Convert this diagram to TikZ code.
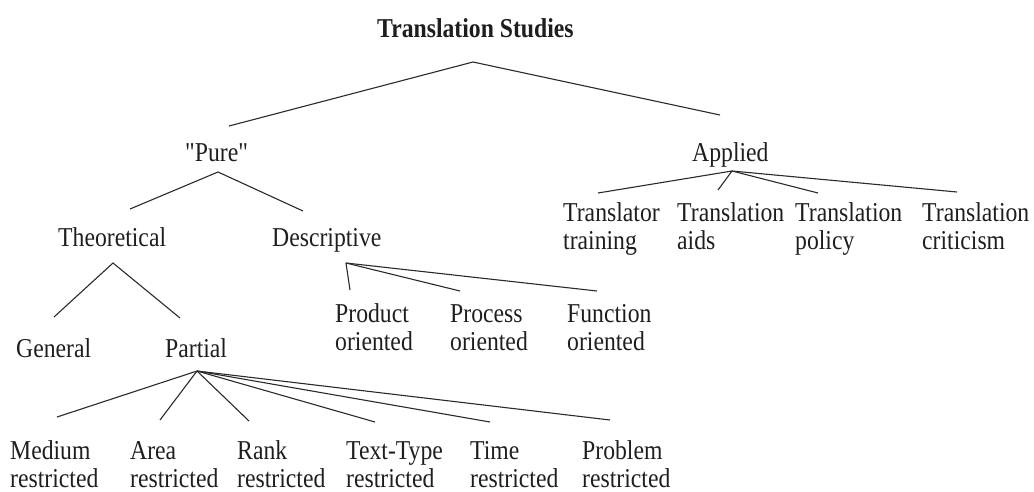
\documentclass[tikz,border=0pt]{standalone}
\usepackage{fontspec}
\setmainfont{Liberation Serif}
\newfontfamily\qfont{Liberation Serif}[Ligatures=ResetAll]
\usepackage{graphicx}
\definecolor{txt}{HTML}{1E1E1E}
\definecolor{ln}{HTML}{2A2A2A}
\newcommand\lbltext[1]{\scalebox{1}[1.15]{\begin{tabular}[t]{@{}l@{}}#1\end{tabular}}}
\newcommand\sq{{\qfont\symbol{34}}}
\tikzset{
  lbl/.style={anchor=base west, inner sep=0pt, text=txt, font=\fontsize{23.7}{25.2}\selectfont},
  br/.style={draw=ln, line width=1.1pt}
}
\begin{document}
\begin{tikzpicture}[x=1pt,y=-1pt]
\useasboundingbox (0,0) rectangle (1034,491);
% labels
\node[lbl, font=\fontsize{23.7}{25.2}\selectfont\bfseries] (ts) at (377,37) {\lbltext{Translation Studies}};
\node[lbl] (pure) at (185,161) {\lbltext{\sq Pure\sq}};
\node[lbl] (appl) at (692,161) {\lbltext{Applied}};
\node[lbl] (theo) at (58,246) {\lbltext{Theoretical}};
\node[lbl] (desc) at (272,246) {\lbltext{Descriptive}};
\node[lbl] (ttr) at (563,221) {\lbltext{Translator\\training}};
\node[lbl] (tai) at (677,221) {\lbltext{Translation\\aids}};
\node[lbl] (tpo) at (795,221) {\lbltext{Translation\\policy}};
\node[lbl] (tcr) at (922,221) {\lbltext{Translation\\criticism}};
\node[lbl] (prod) at (335,322) {\lbltext{Product\\oriented}};
\node[lbl] (proc) at (450,322) {\lbltext{Process\\oriented}};
\node[lbl] (func) at (567,322) {\lbltext{Function\\oriented}};
\node[lbl] (gen) at (16,357) {\lbltext{General}};
\node[lbl] (part) at (165,357) {\lbltext{Partial}};
\node[lbl] (med) at (10,459) {\lbltext{Medium\\restricted}};
\node[lbl] (area) at (130,459) {\lbltext{Area\\restricted}};
\node[lbl] (rank) at (237,459) {\lbltext{Rank\\restricted}};
\node[lbl] (ttype) at (346,459) {\lbltext{Text-Type\\restricted}};
\node[lbl] (time) at (470,459) {\lbltext{Time\\restricted}};
\node[lbl] (prob) at (582,459) {\lbltext{Problem\\restricted}};
% branch points
\coordinate (tsA) at (473,62);
\coordinate (pureE) at (229,126);
\coordinate (applE) at (720,115);
\coordinate (pureA) at (218,172);
\coordinate (theoE) at (130,209);
\coordinate (descE) at (303,211);
\coordinate (theoA) at (113,263);
\coordinate (genE) at (54,317);
\coordinate (partE) at (180,318);
\coordinate (descA) at (346,263);
\coordinate (prodE) at (350,290);
\coordinate (procE) at (460,291);
\coordinate (funcE) at (597,291);
\coordinate (applA) at (732,171);
\coordinate (ttrE) at (598,193);
\coordinate (taiE) at (718,190);
\coordinate (tpoE) at (818,193);
\coordinate (tcrE) at (957,192);
\coordinate (partA) at (197,371);
\coordinate (medE) at (57,417);
\coordinate (areaE) at (160,420);
\coordinate (rankE) at (249,421);
\coordinate (ttypeE) at (375,422);
\coordinate (timeE) at (490,422);
\coordinate (probE) at (610,420);
% connectors
\draw[br] (pureE) -- (tsA) -- (applE);
\draw[br] (theoE) -- (pureA) -- (descE);
\draw[br] (genE) -- (theoA) -- (partE);
\draw[br] (descA) -- (prodE);
\draw[br] (descA) -- (procE);
\draw[br] (descA) -- (funcE);
\draw[br] (applA) -- (ttrE);
\draw[br] (applA) -- (taiE);
\draw[br] (applA) -- (tpoE);
\draw[br] (applA) -- (tcrE);
\draw[br] (partA) -- (medE);
\draw[br] (partA) -- (areaE);
\draw[br] (partA) -- (rankE);
\draw[br] (partA) -- (ttypeE);
\draw[br] (partA) -- (timeE);
\draw[br] (partA) -- (probE);
\end{tikzpicture}
\end{document}
